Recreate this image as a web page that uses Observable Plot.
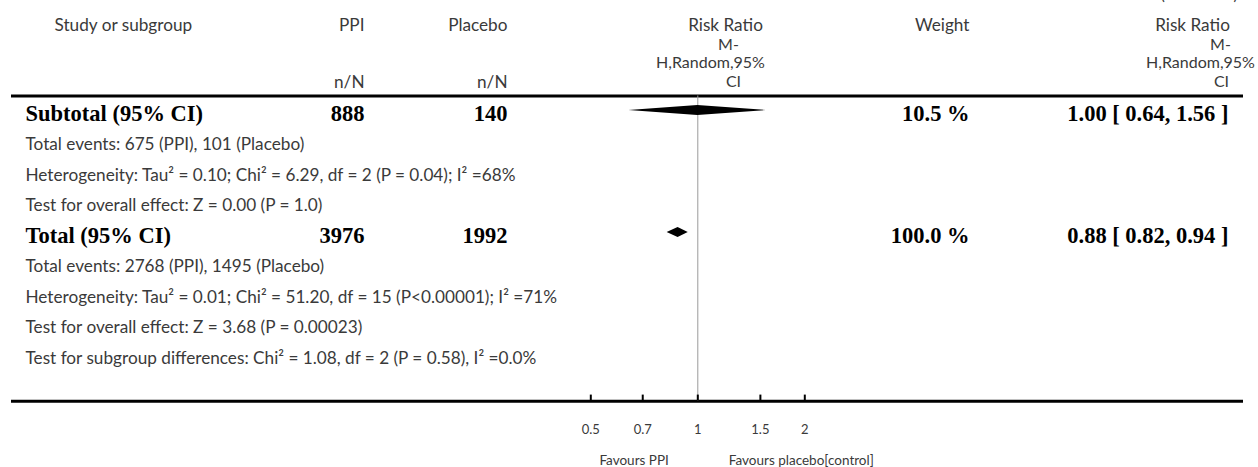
<!DOCTYPE html>
<html>
<head>
<meta charset="utf-8">
<script src="https://cdn.jsdelivr.net/npm/d3@7"></script>
<script src="https://cdn.jsdelivr.net/npm/@observablehq/plot@0.6"></script>
<style>
  html, body { margin: 0; padding: 0; background: #fff; }
  #chart svg { display: block; }
</style>
</head>
<body>
<div id="chart"></div>
<script>
// ---------- data ----------
const headerStudy = ["Study or subgroup"];
const headerPPI = ["PPI", "n/N"];
const headerPlacebo = ["Placebo", "n/N"];
const headerRiskRatio = ["Risk Ratio", "M-", "H,Random,95%", "CI"];
const headerWeight = ["Weight"];
const continuedLabel = ["(Continued)"];

const summaryLabels = ["Subtotal (95% CI)", "Total (95% CI)"];
const summaryPPI = [888, 3976];
const summaryPlacebo = [140, 1992];
const summaryWeight = [10.5, 100.0];
const summaryRR = [1.00, 0.88];
const summaryLow = [0.64, 0.82];
const summaryHigh = [1.56, 0.94];

const subtotalNotes = [
  "Total events: 675 (PPI), 101 (Placebo)",
  "Heterogeneity: Tau\u00B2 = 0.10; Chi\u00B2 = 6.29, df = 2 (P = 0.04); I\u00B2 =68%",
  "Test for overall effect: Z = 0.00 (P = 1.0)"
];
const totalNotes = [
  "Total events: 2768 (PPI), 1495 (Placebo)",
  "Heterogeneity: Tau\u00B2 = 0.01; Chi\u00B2 = 51.20, df = 15 (P<0.00001); I\u00B2 =71%",
  "Test for overall effect: Z = 3.68 (P = 0.00023)",
  "Test for subgroup differences: Chi\u00B2 = 1.08, df = 2 (P = 0.58), I\u00B2 =0.0%"
];

const tickValues = [0.5, 0.7, 1, 1.5, 2];
const tickLabels = ["0.5", "0.7", "1", "1.5", "2"];
const favoursLabels = ["Favours PPI", "Favours placebo[control]"];

// ---------- layout ----------
const W = 1258, H = 467;
const ML = 11, MR = 15;
const SANS = "Lato, 'Open Sans', sans-serif";
const SERIF = "'Liberation Serif', 'DejaVu Serif', serif";
const GREY = "#3a3a3a";
const FS = 17.2;      // regular text size
const FH = 16;        // wrapped header text size
const FB = 22.5;      // bold summary size

// vertical layout in row units (one row = one body line)
const HDR_ROWS = [-2.90, -2.262, -1.672, -1.049];
const HEADER_RULE = -0.59;
const AXIS_ROW = 9.416;
const TICKLABEL_ROW = 10.36;
const FAVOURS_ROW = 11.36;
const summaryRows = [0, 4];
const subtotalNoteRows = [1, 2, 3];
const totalNoteRows = [5, 6, 7, 8];

// horizontal column anchors (px from left)
const COL = {study: 25, studyHdr: 54, ppi: 364, placebo: 507, weight: 969, rr: 1228};
const RR_HDR_LEFT = [725, 728, 710, 733];
const RR_HDR_RIGHT = [1192, 1220, 1200, 1221];

function colText(data, at, opts) {
  return Plot.text(data, {frameAnchor: "left", dx: at - ML, ...opts});
}

// rows
const summary = summaryLabels.map((label, i) => ({
  label, row: summaryRows[i], ppi: summaryPPI[i], placebo: summaryPlacebo[i],
  weight: summaryWeight[i], rr: summaryRR[i], low: summaryLow[i], high: summaryHigh[i]
}));
const notes = [
  ...subtotalNotes.map((t, i) => ({text: t, row: subtotalNoteRows[i]})),
  ...totalNotes.map((t, i) => ({text: t, row: totalNoteRows[i]}))
];

// diamonds: areaX between low and high, tip at rr
const DIA_OFF = -0.115, DIA_H = 0.165;
const diamonds = summary.flatMap((d, i) => [
  {g: i, y: d.row + DIA_OFF - DIA_H, x1: d.rr, x2: d.rr},
  {g: i, y: d.row + DIA_OFF, x1: d.low, x2: d.high},
  {g: i, y: d.row + DIA_OFF + DIA_H, x1: d.rr, x2: d.rr}
]);

const fmtRR = d => `${d.rr.toFixed(2)} [ ${d.low.toFixed(2)}, ${d.high.toFixed(2)} ]`;

// Risk Ratio header: two columns, one text mark per wrapped line
const rrHeaderMarks = [RR_HDR_LEFT, RR_HDR_RIGHT].flatMap(centers =>
  headerRiskRatio.map((line, i) =>
    colText([line], centers[i], {y: () => HDR_ROWS[i], textAnchor: "middle", fontFamily: SANS, fontSize: i === 0 ? FS : FH, fill: GREY})
  )
);

const chart = Plot.plot({
  width: W,
  height: H,
  marginLeft: ML,
  marginRight: MR,
  marginTop: 0,
  marginBottom: 0,
  style: {background: "#fff"},
  x: {type: "log", domain: [0.5, 2], range: [590.3, 804.3], axis: null},
  y: {type: "linear", domain: [0, 8], range: [113.5, 357.5], axis: null},
  marks: [
    // header texts
    Plot.text(continuedLabel, {frameAnchor: "top-right", dx: -(W - MR - 1237), dy: -11, textAnchor: "end", fontFamily: SANS, fontSize: 15, fill: GREY}),
    colText(headerStudy, COL.studyHdr, {y: () => HDR_ROWS[0], textAnchor: "start", fontFamily: SANS, fontSize: FS, fill: GREY}),
    colText(headerPPI, COL.ppi, {y: (d, i) => HDR_ROWS[i === 0 ? 0 : 3], textAnchor: "end", fontFamily: SANS, fontSize: FS, fill: GREY}),
    colText(headerPlacebo, COL.placebo, {y: (d, i) => HDR_ROWS[i === 0 ? 0 : 3], textAnchor: "end", fontFamily: SANS, fontSize: FS, fill: GREY}),
    ...rrHeaderMarks,
    colText(headerWeight, COL.weight, {y: () => HDR_ROWS[0], textAnchor: "end", fontFamily: SANS, fontSize: FS, fill: GREY}),

    // rules
    Plot.ruleY([HEADER_RULE, AXIS_ROW], {y: d => d, stroke: "#000", strokeWidth: 3}),
    Plot.ruleX([1], {y1: HEADER_RULE, y2: AXIS_ROW, stroke: "#9a9a9a", strokeWidth: 1}),

    // summary rows
    colText(summary, COL.study, {y: "row", text: "label", textAnchor: "start", fontFamily: SERIF, fontWeight: "bold", fontSize: FB, fill: "#000"}),
    colText(summary, COL.ppi, {y: "row", text: d => String(d.ppi), textAnchor: "end", fontFamily: SERIF, fontWeight: "bold", fontSize: FB, fill: "#000"}),
    colText(summary, COL.placebo, {y: "row", text: d => String(d.placebo), textAnchor: "end", fontFamily: SERIF, fontWeight: "bold", fontSize: FB, fill: "#000"}),
    colText(summary, COL.weight, {y: "row", text: d => `${d.weight.toFixed(1)} %`, textAnchor: "end", fontFamily: SERIF, fontWeight: "bold", fontSize: FB, fill: "#000"}),
    colText(summary, COL.rr, {y: "row", text: fmtRR, textAnchor: "end", fontFamily: SERIF, fontWeight: "bold", fontSize: FB, fill: "#000"}),
    Plot.areaX(diamonds, {y: "y", x1: "x1", x2: "x2", z: "g", fill: "#000", curve: "linear"}),

    // notes
    colText(notes, COL.study, {y: "row", text: "text", textAnchor: "start", fontFamily: SANS, fontSize: FS, fill: GREY}),

    // axis ticks and labels
    Plot.ruleX(tickValues, {x: d => d, y1: AXIS_ROW, y2: AXIS_ROW - 0.2, stroke: "#000", strokeWidth: 2}),
    Plot.text(tickValues, {x: d => d, y: () => TICKLABEL_ROW, text: (d, i) => tickLabels[i], fontFamily: SANS, fontSize: 13, fill: GREY}),
    Plot.text([favoursLabels[0]], {x: () => 1, y: () => FAVOURS_ROW, textAnchor: "end", dx: -29, fontFamily: SANS, fontSize: 13.5, fill: GREY}),
    Plot.text([favoursLabels[1]], {x: () => 1, y: () => FAVOURS_ROW, textAnchor: "start", dx: 31, fontFamily: SANS, fontSize: 13.5, fill: GREY})
  ]
});

document.getElementById("chart").append(chart);
</script>
</body>
</html>
